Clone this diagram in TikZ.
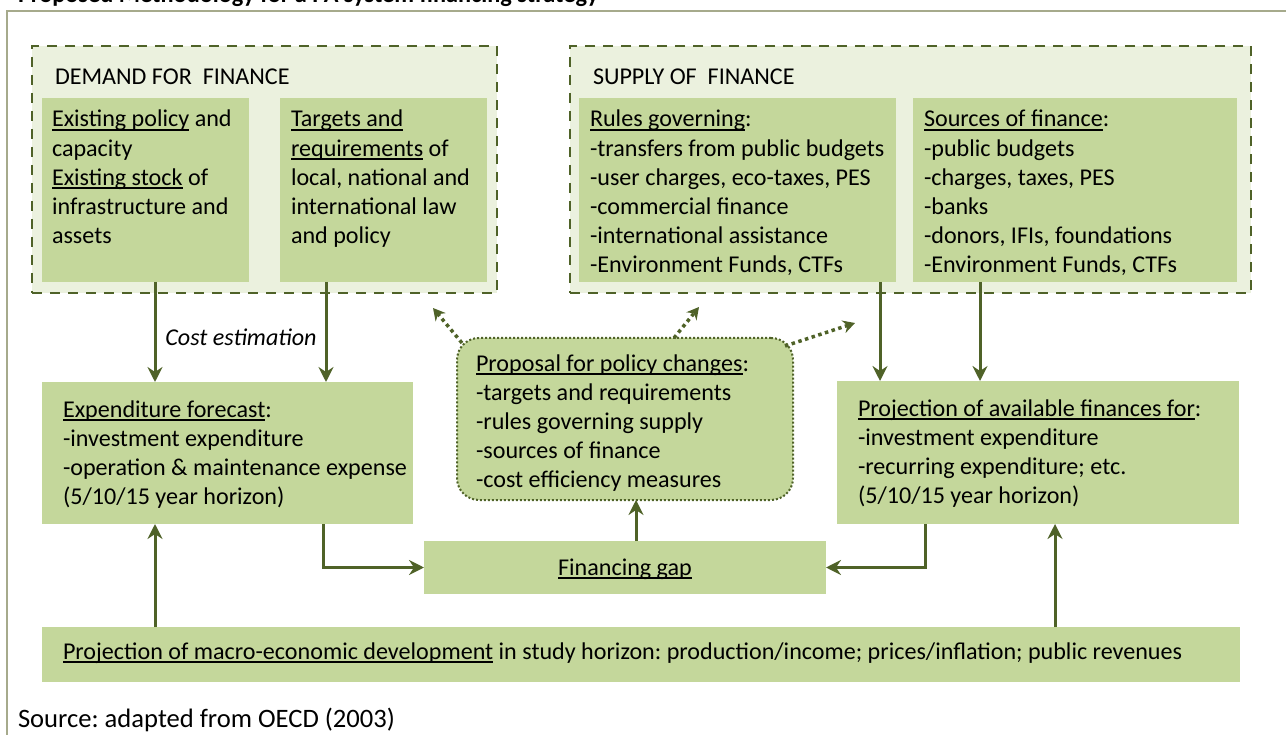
\documentclass[tikz,border=0pt]{standalone}
\usepackage{fontspec}
\setmainfont{Carlito}
\usetikzlibrary{arrows.meta,calc}
\frenchspacing

\definecolor{oliveline}{RGB}{79,98,40}
\definecolor{boxfill}{RGB}{196,215,155}
\definecolor{panelfill}{RGB}{235,241,222}
\definecolor{framecol}{RGB}{166,170,140}

% underline at a fixed depth, running through descenders
\newsavebox{\udlbox}
\newcommand{\udl}[1]{\sbox{\udlbox}{#1}\rlap{\rule[-3.6pt]{\wd\udlbox}{1.5pt}}\usebox{\udlbox}}

\tikzset{
  every node/.style={inner sep=0pt, outer sep=0pt, font=\fontsize{24.1}{29.2}\selectfont},
  panel/.style={draw=oliveline, fill=panelfill, line width=2.6pt, dash pattern=on 10pt off 8pt, anchor=north west},
  greenbox/.style={fill=boxfill, draw=none, anchor=north west},
  propbox/.style={fill=boxfill, draw=oliveline, line width=2pt, dash pattern=on 2pt off 2pt, rounded corners=22pt, anchor=north west},
  % multi-line text is placed by the baseline of its last line
  txt/.style={anchor=base west, align=left},
  arr/.style={draw=oliveline, line width=3pt, -{Stealth[length=15pt,width=15pt,inset=5pt]}},
  dotarr/.style={draw=oliveline, line width=3.5pt, dash pattern=on 3.5pt off 3.5pt, -{Stealth[length=12pt,width=13pt,inset=4pt]}}
}

\begin{document}
\begin{tikzpicture}[x=1pt,y=-1pt]
\useasboundingbox (0,0) rectangle (1286,735);
\clip (0,0) rectangle (1286,735);

% outer frame (left and top edges)
\draw[framecol, line width=2pt] (7,750) |- (1300,11);

% heading
\node[anchor=base west, font=\fontsize{24.3}{29}\selectfont\bfseries] (title) at (18,3) {Proposed Methodology for a PA system financing strategy};

% demand and supply panels
\node[panel, minimum width=465pt, minimum height=247pt] (dem) at (32,46) {};
\node[panel, minimum width=681pt, minimum height=247pt] (sup) at (570,46) {};
\node[anchor=base west] (demlbl) at (55,85) {DEMAND FOR~ FINANCE};
\node[anchor=base west] (suplbl) at (593,85) {SUPPLY OF~ FINANCE};

% inner boxes
\node[greenbox, minimum width=207pt, minimum height=184pt] (d1) at (42,98) {};
\node[greenbox, minimum width=207pt, minimum height=184pt] (d2) at (280,98) {};
\node[greenbox, minimum width=317pt, minimum height=184pt] (s1) at (579,98) {};
\node[greenbox, minimum width=324pt, minimum height=184pt] (s2) at (913,98) {};

\node[txt] (d1t) at (52,243.8) {\udl{Existing policy} and\\capacity\\\udl{Existing stock} of\\infrastructure and\\assets};
\node[txt] (d2t) at (291,243.8) {\udl{Targets and}\\\udl{requirements} of\\local, national and\\international law\\and policy};
\node[txt] (s1t) at (590,273) {\udl{Rules governing}:\\-transfers from public budgets\\-user charges, eco-taxes, PES\\-commercial finance\\-international assistance\\-Environment Funds, CTFs};
\node[txt] (s2t) at (924,273) {\udl{Sources of finance}:\\-public budgets\\-charges, taxes, PES\\-banks\\-donors, IFIs, foundations\\-Environment Funds, CTFs};

% middle row
\node[greenbox, minimum width=371pt, minimum height=142pt] (exp) at (42,382) {};
\node[greenbox, minimum width=402pt, minimum height=143pt] (proj) at (837,381) {};
\node[propbox, minimum width=336pt, minimum height=162pt] (prop) at (457,338) {};
\node[greenbox, minimum width=402pt, minimum height=53pt] (gap) at (424,541) {};
\node[greenbox, minimum width=1198pt, minimum height=55pt] (macro) at (42,627) {};

\node[txt] (expt) at (63,504.6) {\udl{Expenditure forecast}:\\-investment expenditure\\-operation \& maintenance expense\\(5/10/15 year horizon)};
\node[txt] (projt) at (858,503.6) {\udl{Projection of available finances for}:\\-investment expenditure\\-recurring expenditure; etc.\\(5/10/15 year horizon)};
\node[txt] (propt) at (476,487.8) {\udl{Proposal for policy changes}:\\-targets and requirements\\-rules governing supply\\-sources of finance\\-cost efficiency measures};
\node[anchor=base] (gapt) at (625,575) {\udl{Financing gap}};
\node[txt] (macrot) at (63,659) {\udl{Projection of macro-economic development} in study horizon: production/income; prices/inflation; public revenues};

\node[anchor=base, font=\fontsize{24.1}{29.2}\selectfont\itshape] (cost) at (241,346) {Cost estimation};
\node[anchor=base west, font=\fontsize{26.6}{32}\selectfont] (src) at (18,727) {Source: adapted from OECD (2003)};

% solid connectors
\draw[arr] (155,0 |- d1.south) -- (155,0 |- exp.north);
\draw[arr] (326,0 |- d2.south) -- (326,0 |- exp.north);
\draw[arr] (880,0 |- s1.south) -- (880,0 |- proj.north);
\draw[arr] (980,0 |- s2.south) -- (980,0 |- proj.north);
\draw[arr] (323,0 |- exp.south) |- (gap.west);
\draw[arr] (925,0 |- proj.south) |- (gap.east);
\draw[arr] (636,0 |- gap.north) -- (636,0 |- prop.south);
\draw[arr] (155,0 |- macro.north) -- (155,0 |- exp.south);
\draw[arr] (1055,0 |- macro.north) -- (1055,0 |- proj.south);

% dotted feedback arrows from the proposal
\coordinate (fb1) at ($(dem.south east)+(-64,15)$);
\coordinate (fb2) at ($(sup.south west)+(129,14)$);
\coordinate (fb3) at ($(sup.south west)+(285,30)$);
\draw[dotarr] ($(prop.north west)+(5,5)$) -- (fb1);
\draw[dotarr] ($(prop.north)+(49,0)$) -- (fb2);
\draw[dotarr] ($(prop.north east)+(-8,8)$) -- (fb3);
\end{tikzpicture}
\end{document}
